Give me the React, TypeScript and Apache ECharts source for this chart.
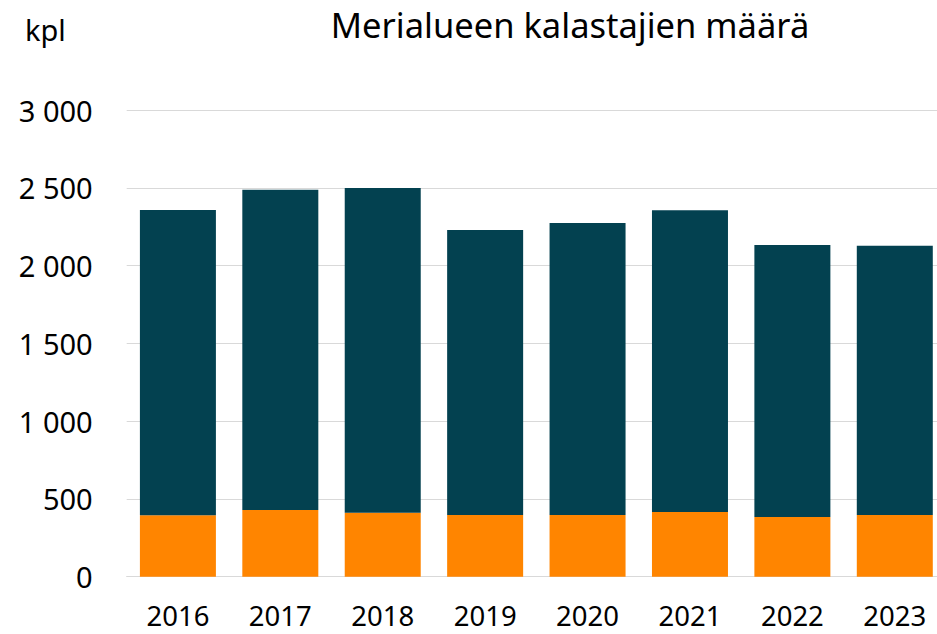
import React, { useEffect, useRef } from "react";
import * as echarts from "echarts";

const years = ["2016", "2017", "2018", "2019", "2020", "2021", "2022", "2023"];
const lowerSeries = [395, 429, 411, 396, 396, 416, 384, 396];
const upperSeries = [1962, 2058, 2087, 1832, 1877, 1939, 1748, 1731];
const yTicks = { min: 0, max: 3000, interval: 500 };
const titleText = "Merialueen kalastajien määrä";
const unitText = "kpl";

const FONT = "'Noto Sans', 'Open Sans', sans-serif";

function fmt(v: number): string {
  if (v >= 1000) {
    return Math.floor(v / 1000) + " " + String(v % 1000).padStart(3, "0");
  }
  return String(v);
}

export default function App() {
  const ref = useRef<HTMLDivElement>(null);
  useEffect(() => {
    if (!ref.current) return;
    const chart = echarts.init(ref.current, null, { renderer: "svg" });
    chart.setOption({
      animation: false,
      backgroundColor: "#ffffff",
      textStyle: { fontFamily: FONT },
      graphic: [
        {
          type: "text",
          x: 570,
          y: 24,
          style: {
            text: titleText,
            font: `34.5px ${FONT}`,
            fill: "#000000",
            textAlign: "center",
            textVerticalAlign: "middle",
          },
        },
        {
          type: "text",
          x: 25,
          y: 15,
          style: {
            text: unitText,
            font: `29px ${FONT}`,
            fill: "#000000",
            textVerticalAlign: "top",
          },
        },
      ],
      grid: { left: 126.7, right: 14, top: 110, bottom: 57.3, containLabel: false },
      xAxis: {
        type: "category",
        data: years,
        axisLine: { show: true, lineStyle: { color: "#d9d9d9", width: 1 } },
        axisTick: { show: false },
        axisLabel: { color: "#000000", fontSize: 27.5, fontFamily: FONT, margin: 25 },
      },
      yAxis: {
        type: "value",
        min: yTicks.min,
        max: yTicks.max,
        interval: yTicks.interval,
        axisLine: { show: false },
        axisTick: { show: false },
        splitLine: { lineStyle: { color: "#d9d9d9", width: 1 } },
        axisLabel: {
          color: "#000000",
          fontSize: 29,
          fontFamily: FONT,
          margin: 34,
          formatter: (v: number) => fmt(v),
        },
      },
      series: [
        {
          name: "Sarja 1",
          type: "bar",
          stack: "total",
          data: lowerSeries,
          barWidth: 76,
          itemStyle: { color: "#FF8500" },
        },
        {
          name: "Sarja 2",
          type: "bar",
          stack: "total",
          data: upperSeries,
          barWidth: 76,
          itemStyle: { color: "#034150" },
        },
      ],
    });
    return () => chart.dispose();
  }, []);
  return (
    <div
      style={{
        position: "fixed",
        left: 0,
        top: 0,
        width: 937,
        height: 634,
        overflow: "hidden",
        background: "#fff",
      }}
    >
      <div ref={ref} style={{ width: 960, height: 634 }} />
    </div>
  );
}
